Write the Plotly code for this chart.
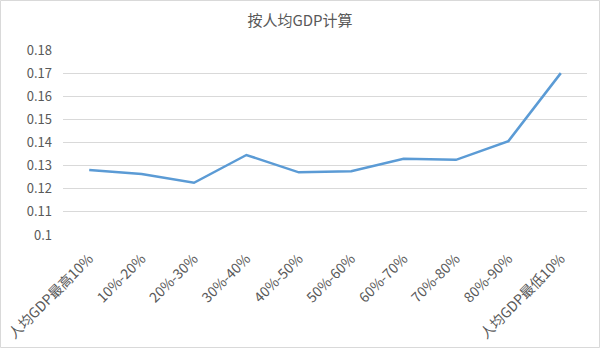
import plotly.graph_objects as go

categories = ["人均GDP最高10%", "10%-20%", "20%-30%", "30%-40%", "40%-50%",
              "50%-60%", "60%-70%", "70%-80%", "80%-90%", "人均GDP最低10%"]
values = [0.1281, 0.1264, 0.1226, 0.1346, 0.1271, 0.1276, 0.1330, 0.1325, 0.1406, 0.1700]
title_text = "按人均GDP计算"

W, H = 600, 348
ml, mr, mt, mb = 63, 13, 50, 113
pw, ph = W - ml - mr, H - mt - mb

fig = go.Figure(go.Scatter(
    x=categories, y=values, mode="lines",
    line=dict(color="#5B9BD5", width=2.5),
    hoverinfo="skip", showlegend=False,
))

font_family = "Noto Sans CJK SC, Open Sans, sans-serif"
fig.update_layout(
    width=W, height=H,
    margin=dict(l=ml, r=mr, t=mt, b=mb, autoexpand=False),
    paper_bgcolor="white", plot_bgcolor="white",
    title=dict(text=title_text, x=0.5, xanchor="center", y=1 - 21 / H, yanchor="middle",
               font=dict(family=font_family, size=15, color="#595959")),
    font=dict(family=font_family, color="#595959"),
    xaxis=dict(type="category", range=[-0.5, len(categories) - 0.5],
               tickangle=-45, showgrid=False, showline=False,
               ticks="", tickfont=dict(size=14, color="#595959"), zeroline=False,
               automargin=False, ticklabelstandoff=12),
    yaxis=dict(range=[0.1, 0.18], dtick=0.01, tick0=0.1, showgrid=True,
               gridcolor="#D9D9D9", gridwidth=1, zeroline=False, showline=False,
               ticks="", tickfont=dict(size=13, color="#595959"), ticklabelstandoff=10,
               automargin=False),
    shapes=[dict(type="rect", xref="paper", yref="paper",
                 x0=-(ml - 0.5) / pw, x1=1 + (mr - 0.5) / pw,
                 y0=-(mb - 0.5) / ph, y1=1 + (mt - 0.5) / ph,
                 line=dict(color="#D9D9D9", width=1), layer="below")],
)

fig.write_html("out.html")
